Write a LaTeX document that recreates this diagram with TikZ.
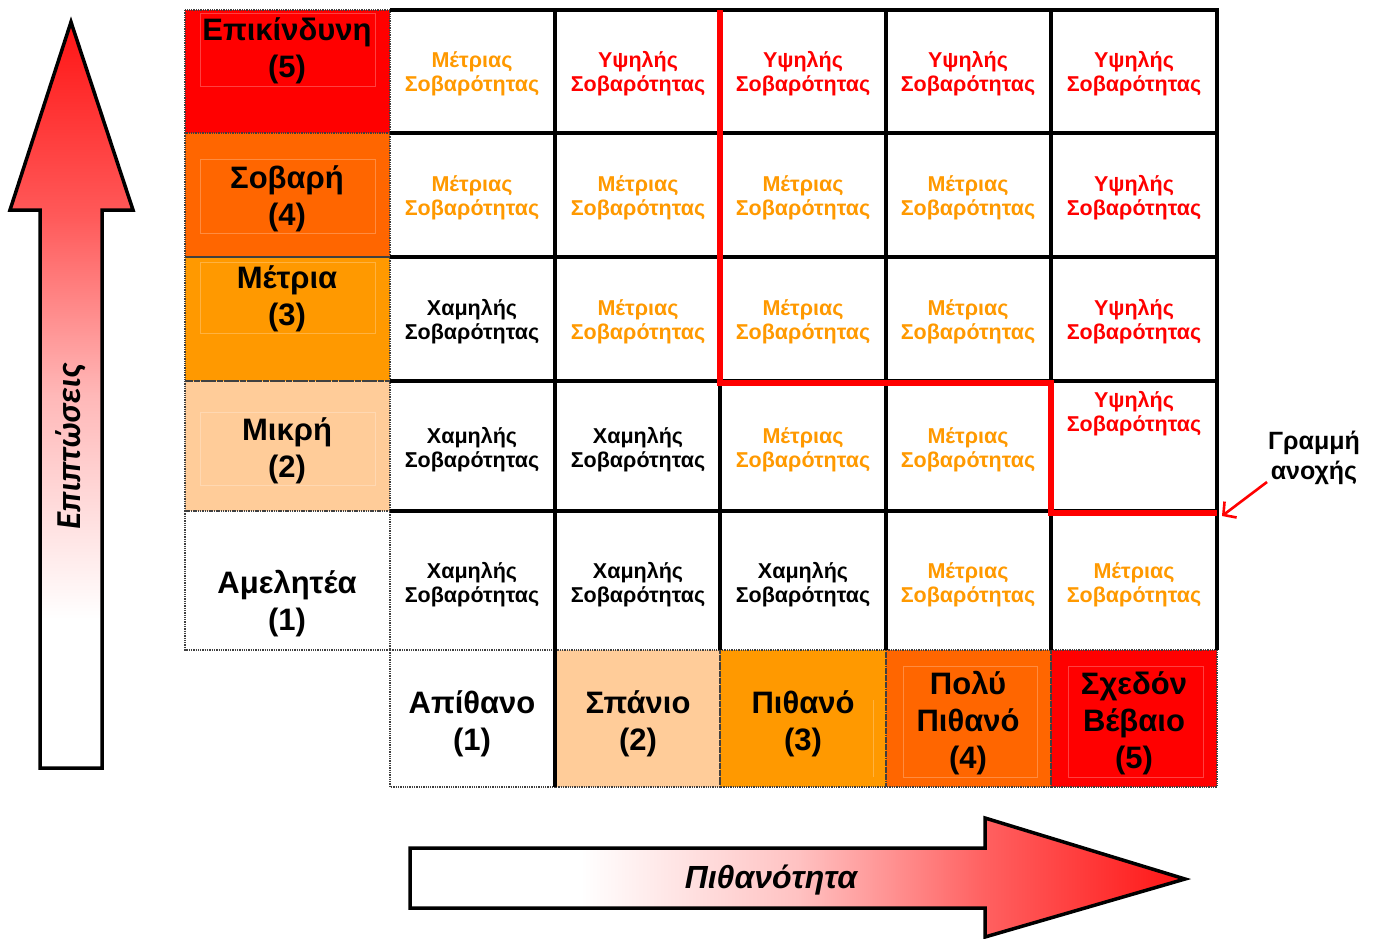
\documentclass[tikz,border=0pt]{standalone}
\usepackage{fontspec}
\setmainfont{Liberation Sans}
\newfontfamily\carlito{Carlito}
\usetikzlibrary{arrows.meta}

% white-to-red ramps for the two axis arrows (the path box spans 25bp..75bp)
\pgfdeclarehorizontalshading{riseh}{100bp}{color(0bp)=(white); color(25bp)=(white); color(36bp)=(white); color(50bp)=(red!24); color(62bp)=(red!62); color(75bp)=(red!92); color(100bp)=(red!92)}
\pgfdeclareverticalshading{risev}{100bp}{color(0bp)=(white); color(25bp)=(white); color(35bp)=(white); color(50bp)=(red!28); color(62bp)=(red!65); color(75bp)=(red!92); color(100bp)=(red!92)}

\definecolor{cHot}{HTML}{FF0000}
\definecolor{cDeep}{HTML}{FF6600}
\definecolor{cMid}{HTML}{FF9900}
\definecolor{cPale}{HTML}{FFCC99}

\tikzset{
  grid/.style={line width=3.8pt, black},
  hdrbox/.style={draw=black!75, densely dotted, line width=1.3pt},
  faint/.style={draw=white, opacity=0.25, line width=0.8pt},
  hdr/.style={align=center, inner sep=0pt, font=\bfseries\fontsize{31}{37}\selectfont},
  cell/.style={align=center, inner sep=0pt, font=\bfseries\fontsize{21.5}{24}\selectfont},
  lo/.style={cell, text=black},
  md/.style={cell, text=cMid},
  hi/.style={cell, text=cHot},
  tol/.style={line width=6.5pt, cHot},
  axisarrow/.style={draw=black, line width=3.5pt, line join=miter},
}

\begin{document}
\begin{tikzpicture}[x=1pt, y=-1pt]
\useasboundingbox (0,0) rectangle (1377,938);

% ---- axis arrows ----
\path[axisarrow, shading=risev] (40,768) -- (40,210) -- (10,210) -- (71,22) -- (133,210) -- (102,210) -- (102,768) -- cycle;
\node[rotate=90, inner sep=0pt, font=\carlito\bfseries\itshape\fontsize{35}{40}\selectfont] (impact) at (71,447) {Επιπτώσεις};

\path[axisarrow, shading=riseh] (410,848) -- (985,848) -- (985,818) -- (1185,879) -- (985,937) -- (985,908) -- (410,908) -- cycle;
\node[inner sep=0pt, font=\bfseries\itshape\fontsize{32}{36}\selectfont] (prob) at (771,880) {Πιθανότητα};

% ---- impact headers (left column) ----
\fill[cHot]  (185,10)  rectangle (390,133);
\fill[cDeep] (185,133) rectangle (390,257);
\fill[cMid]  (185,257) rectangle (390,381);
\fill[cPale] (185,381) rectangle (390,511);
\draw[faint] (200,13) rectangle (375,86);
\draw[faint] (200,159) rectangle (375,233);
\draw[faint] (200,262) rectangle (375,333);
\draw[faint] (200,412) rectangle (375,485);
\foreach \ya/\yb in {10/133,133/257,257/381,381/511,511/650}
  \draw[hdrbox] (185,\ya) rectangle (390,\yb);

\node[hdr] (imp5) at (287,51)  {Επικίνδυνη\\(5)};
\node[hdr] (imp4) at (287,199) {Σοβαρή\\(4)};
\node[hdr] (imp3) at (287,299) {Μέτρια\\(3)};
\node[hdr] (imp2) at (287,451) {Μικρή\\(2)};
\node[hdr] (imp1) at (287,604) {Αμελητέα\\(1)};

% ---- likelihood headers (bottom row) ----
\fill[cPale] (555,650) rectangle (720,787);
\fill[cMid]  (720,650) rectangle (886,787);
\fill[cDeep] (886,650) rectangle (1051,787);
\fill[cHot]  (1051,650) rectangle (1217,787);
\draw[faint] (903,666) rectangle (1037,777);
\draw[faint] (1068,666) rectangle (1203,777);
\draw[faint] (873,700) -- (873,777);
\foreach \xa/\xb in {390/555,555/720,720/886,886/1051,1051/1217}
  \draw[hdrbox] (\xa,650) rectangle (\xb,787);

\node[hdr] (lik1) at (472,724)  {Απίθανο\\(1)};
\node[hdr] (lik2) at (638,724)  {Σπάνιο\\(2)};
\node[hdr] (lik3) at (803,724)  {Πιθανό\\(3)};
\node[hdr] (lik4) at (968,723)  {Πολύ\\Πιθανό\\(4)};
\node[hdr] (lik5) at (1134,723) {Σχεδόν\\Βέβαιο\\(5)};

% ---- matrix grid ----
\foreach \y in {10,133,257,381,511}
  \draw[grid] (390,\y) -- (1219,\y);
\foreach \x in {720,886,1051,1217}
  \draw[grid] (\x,8) -- (\x,650);
\draw[grid] (555,8) -- (555,787);

% ---- matrix cells ----
% row (5)
\node[md] (c51) at (472,74)  {Μέτριας\\Σοβαρότητας};
\node[hi] (c52) at (638,74)  {Υψηλής\\Σοβαρότητας};
\node[hi] (c53) at (803,74)  {Υψηλής\\Σοβαρότητας};
\node[hi] (c54) at (968,74)  {Υψηλής\\Σοβαρότητας};
\node[hi] (c55) at (1134,74) {Υψηλής\\Σοβαρότητας};
% row (4)
\node[md] (c41) at (472,198)  {Μέτριας\\Σοβαρότητας};
\node[md] (c42) at (638,198)  {Μέτριας\\Σοβαρότητας};
\node[md] (c43) at (803,198)  {Μέτριας\\Σοβαρότητας};
\node[md] (c44) at (968,198)  {Μέτριας\\Σοβαρότητας};
\node[hi] (c45) at (1134,198) {Υψηλής\\Σοβαρότητας};
% row (3)
\node[lo] (c31) at (472,322)  {Χαμηλής\\Σοβαρότητας};
\node[md] (c32) at (638,322)  {Μέτριας\\Σοβαρότητας};
\node[md] (c33) at (803,322)  {Μέτριας\\Σοβαρότητας};
\node[md] (c34) at (968,322)  {Μέτριας\\Σοβαρότητας};
\node[hi] (c35) at (1134,322) {Υψηλής\\Σοβαρότητας};
% row (2)
\node[lo] (c21) at (472,450)  {Χαμηλής\\Σοβαρότητας};
\node[lo] (c22) at (638,450)  {Χαμηλής\\Σοβαρότητας};
\node[md] (c23) at (803,450)  {Μέτριας\\Σοβαρότητας};
\node[md] (c24) at (968,450)  {Μέτριας\\Σοβαρότητας};
\node[hi] (c25) at (1134,414) {Υψηλής\\Σοβαρότητας};
% row (1)
\node[lo] (c11) at (472,585)  {Χαμηλής\\Σοβαρότητας};
\node[lo] (c12) at (638,585)  {Χαμηλής\\Σοβαρότητας};
\node[lo] (c13) at (803,585)  {Χαμηλής\\Σοβαρότητας};
\node[md] (c14) at (968,585)  {Μέτριας\\Σοβαρότητας};
\node[md] (c15) at (1134,585) {Μέτριας\\Σοβαρότητας};

% ---- tolerance line ----
\coordinate (t0) at (720,10);
\coordinate (t1) at (720,383);
\coordinate (t2) at (1051,383);
\coordinate (t3) at (1051,513);
\coordinate (t4) at (1217,513);
\draw[tol, line join=miter] (t0) -- (t1) -- (t2) -- (t3) -- (t4);

\node[align=center, inner sep=0pt, font=\bfseries\fontsize{25}{30}\selectfont] (tolbl) at (1314,458) {Γραμμή\\ανοχής};
\coordinate (tolend) at (1222,516);
\draw[cHot, line width=2.6pt, -{Straight Barb[length=9pt, width=20pt, line width=2.6pt]}] (1267,482) -- (tolend);
\end{tikzpicture}
\end{document}
